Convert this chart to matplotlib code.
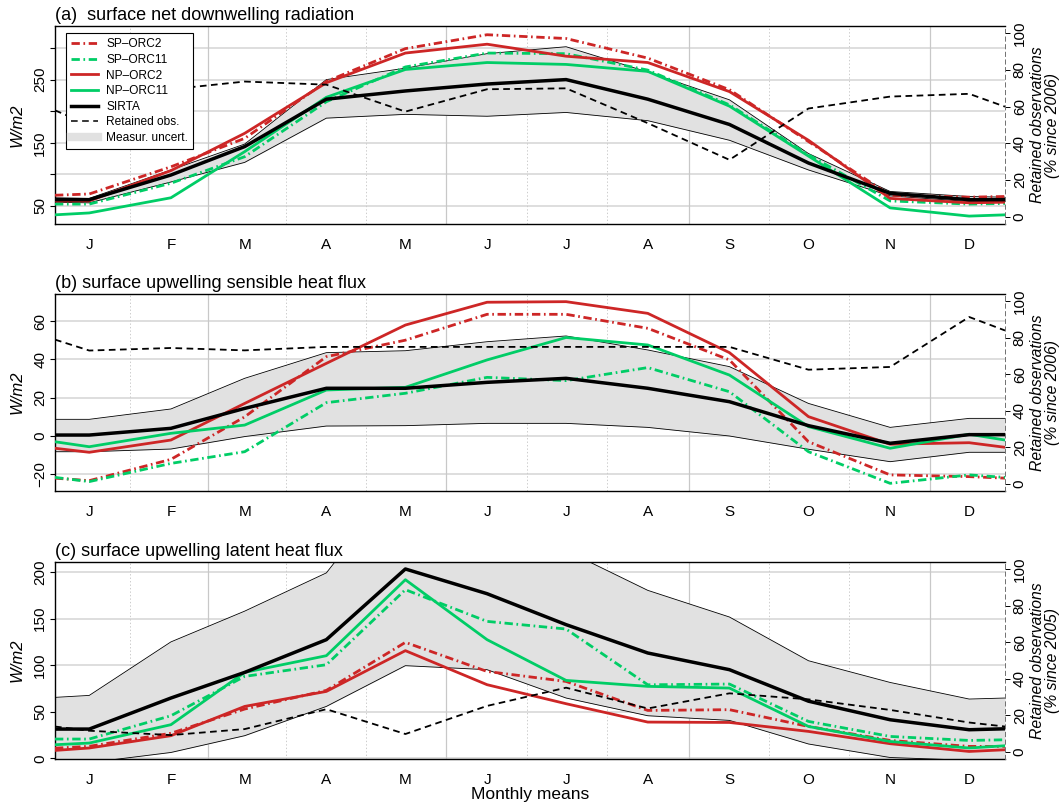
import numpy as np
import matplotlib
matplotlib.use("Agg")
import matplotlib.pyplot as plt
from matplotlib.lines import Line2D

plt.rcParams['font.family'] = ['Liberation Sans', 'DejaVu Sans']
plt.rcParams['lines.scale_dashes'] = False

# ---------------------------------------------------------------------------
# Monthly climatologies. Each series holds the value at the left axis edge,
# January ... December, and the value at the right axis edge.
# ---------------------------------------------------------------------------
months = ["J", "F", "M", "A", "M", "J", "J", "A", "S", "O", "N", "D"]
month_days = [31, 28, 31, 30, 31, 30, 31, 31, 30, 31, 30, 31]

# (a) surface net downwelling radiation, W/m2
rad_sp_orc2 = [67, 69, 112, 157, 247, 299, 321, 315, 284, 234, 152, 67, 64, 65]
rad_sp_orc11 = [53, 53, 86, 128, 215, 270, 292, 291, 265, 210, 131, 58, 53, 54]
rad_np_orc2 = [58, 58, 106, 165, 245, 292, 306, 287, 277, 231, 154, 62, 55, 56]
rad_np_orc11 = [36, 39, 63, 136, 222, 266, 277, 274, 263, 208, 129, 47, 34, 36]
rad_sirta = [60, 60, 99, 144, 219, 232, 243, 250, 219, 179, 118, 70, 60, 60]
rad_low = [56, 55, 88, 119, 189, 195, 192, 198, 185, 154, 107, 66, 57, 57]
rad_high = [63, 62, 107, 148, 250, 268, 291, 302, 262, 218, 133, 73, 65, 64]
rad_retained = [58, 50, 69.5, 73.7, 72, 57.3, 69.5, 70, 51, 31, 59, 65.5, 67, 60]

# (b) surface upwelling sensible heat flux, W/m2
sens_sp_orc2 = [-22, -23.3, -12.2, 10, 41.4, 50, 63.5, 63.5, 56.2, 39.7, -3, -20.3, -21.2, -22]
sens_sp_orc11 = [-21.6, -23.8, -14.3, -8.2, 17.4, 22.3, 30.6, 28.9, 35.7, 23.1, -8.2, -24.7, -20.3, -21.6]
sens_np_orc2 = [-6.4, -8.5, -2.1, 17, 37.9, 57.9, 69.8, 70.1, 64, 43.5, 10.1, -4.3, -3.5, -5.9]
sens_np_orc11 = [-3, -5.6, 1.4, 5.7, 24, 25.4, 39.7, 51.4, 47.5, 31.8, 4.9, -6.4, 0.9, -2.1]
sens_sirta = [0.5, 0.5, 4, 14.4, 24.9, 24.9, 28, 30.1, 24.9, 17.9, 5.4, -3.8, 0.7, 0.7]
sens_low = [-8.2, -8.2, -6.8, -0.3, 5.2, 5.4, 6.6, 6.6, 4.5, 0, -6.9, -13.4, -8.5, -8.5]
sens_high = [8.7, 8.7, 14.1, 30.1, 43.5, 44.5, 49.2, 52.2, 44.9, 36.2, 17, 4.5, 9.2, 9.2]
sens_retained = [79, 73, 74.4, 73.1, 75, 75, 75, 75, 75, 75, 62.5, 64, 91.4, 84]

# (c) surface upwelling latent heat flux, W/m2
lat_sp_orc2 = [11, 13, 27, 53, 73, 124.5, 93.3, 82.6, 51.5, 52.3, 34.3, 19.3, 12.9, 12.9]
lat_sp_orc11 = [20.8, 20.8, 45.8, 88, 100.5, 181, 147, 138.8, 79, 79.8, 39.7, 23.6, 19.3, 20]
lat_np_orc2 = [8.6, 11.2, 24.4, 55.8, 71.9, 115.6, 79.1, 58.7, 39, 38.6, 29, 15.8, 7.5, 9.3]
lat_np_orc11 = [14.7, 16.5, 36.2, 92.3, 110.2, 191.7, 127.4, 83.7, 77.3, 75.5, 34.3, 18.2, 11.2, 13.6]
lat_sirta = [31.5, 31.5, 64.8, 92.3, 127.4, 203.2, 176.7, 143.5, 113.1, 95.2, 61.4, 41.5, 30.8, 31.8]
lat_low = [-2.5, -4.5, 6.4, 24.4, 55.8, 99.5, 95.2, 64.8, 45.8, 40.8, 15.5, 1, -2, -2]
lat_high = [65.5, 67.6, 125, 158, 199, 307, 258, 223, 180.3, 151.7, 104.8, 81.5, 63.7, 64.8]
lat_retained = [13.8, 11.5, 9.1, 12.4, 23.3, 9.7, 25.1, 35.1, 23.7, 32, 28.7, 22.9, 16, 13.8]

titles = ["(a)  surface net downwelling radiation",
          "(b) surface upwelling sensible heat flux",
          "(c) surface upwelling latent heat flux"]
right_labels = ["Retained observations\n(% since 2006)",
                "Retained observations\n(% since 2006)",
                "Retained observations\n(% since 2005)"]

# ---------------------------------------------------------------------------
RED = "#cd2626"
GREEN = "#00cd66"
BAND = "#e1e1e1"
DASHDOT = (0, (6.0, 2.6, 1.2, 2.6))
DASHED = (0, (4.8, 3.2))
LW_MODEL = 2.0
LW_OBS = 2.5

# x in day-of-year, months placed at their first day
month_pos = np.concatenate([[0], np.cumsum(month_days[:-1])]).astype(float)
x_left, x_right = -13.0, 347.6
xs = np.concatenate([[x_left], month_pos, [x_right]])
bounds = (month_pos[:-1] + month_pos[1:]) / 2.0
season_bounds = {1, 4, 7, 10}

panels = [
    dict(sp2=rad_sp_orc2, sp11=rad_sp_orc11, np2=rad_np_orc2, np11=rad_np_orc11,
         obs=rad_sirta, lo=rad_low, hi=rad_high, ret=rad_retained,
         ylim=(21.5, 334.8), yticks=[50, 100, 150, 200, 250, 300],
         ylabels=["50", "", "150", "", "250", ""]),
    dict(sp2=sens_sp_orc2, sp11=sens_sp_orc11, np2=sens_np_orc2, np11=sens_np_orc11,
         obs=sens_sirta, lo=sens_low, hi=sens_high, ret=sens_retained,
         ylim=(-28.7, 74.1), yticks=[-20, 0, 20, 40, 60],
         ylabels=["\u221220", "0", "20", "40", "60"]),
    dict(sp2=lat_sp_orc2, sp11=lat_sp_orc11, np2=lat_np_orc2, np11=lat_np_orc11,
         obs=lat_sirta, lo=lat_low, hi=lat_high, ret=lat_retained,
         ylim=(-0.6, 210.7), yticks=[0, 50, 100, 150, 200],
         ylabels=["0", "50", "100", "150", "200"]),
]

W, H = 1064, 807
fig = plt.figure(figsize=(W / 100, H / 100), dpi=100)
boxes = [(26, 224), (294, 491), (562, 759)]
left_px, right_px = 55, 1005

for i, (p, (top, bot)) in enumerate(zip(panels, boxes)):
    ax = fig.add_axes([left_px / W, 1 - bot / H, (right_px - left_px) / W, (bot - top) / H])
    ax.set_xlim(x_left, x_right)
    ax.set_ylim(*p["ylim"])

    # grid
    for t in p["yticks"]:
        ax.axhline(t, color="#d8d8d8", lw=1.2, zorder=0)
    for k, b in enumerate(bounds):
        if k in season_bounds:
            ax.axvline(b, color="#c8c8c8", lw=0.9, zorder=0)
        else:
            ax.axvline(b, color="#cccccc", lw=0.7, ls=(0, (1, 1.5)), zorder=0)

    # measurement uncertainty band
    ax.fill_between(xs, p["lo"], p["hi"], color=BAND, lw=0, zorder=1)
    ax.plot(xs, p["lo"], color="black", lw=0.6, zorder=2)
    ax.plot(xs, p["hi"], color="black", lw=0.6, zorder=2)

    # model runs and observations
    ax.plot(xs, p["sp2"], color=RED, lw=LW_MODEL, ls=DASHDOT, zorder=3)
    ax.plot(xs, p["sp11"], color=GREEN, lw=LW_MODEL, ls=DASHDOT, zorder=3)
    ax.plot(xs, p["np2"], color=RED, lw=LW_MODEL, zorder=3)
    ax.plot(xs, p["np11"], color=GREEN, lw=LW_MODEL, zorder=3)
    ax.plot(xs, p["obs"], color="black", lw=LW_OBS, zorder=4)

    ax.set_yticks(p["yticks"])
    ax.set_yticklabels(p["ylabels"])
    ax.tick_params(axis="y", length=3.6, width=0.8, direction="out", labelsize=11, pad=2)
    for lab in ax.get_yticklabels():
        lab.set_rotation(90)
        lab.set_va("center")
    ax.set_xticks(month_pos)
    ax.set_xticklabels(months)
    ax.tick_params(axis="x", length=0, labelsize=11, pad=10)

    for s in ("left", "top", "bottom"):
        ax.spines[s].set_linewidth(1.0)
    ax.spines["right"].set_visible(False)

    ax.set_title(titles[i], loc="left", fontsize=13, pad=4)
    ax.set_ylabel("W/m2", fontstyle="italic", fontsize=12)
    ax.yaxis.label.set_va("center")
    ax.yaxis.set_label_coords((17.5 - left_px) / (right_px - left_px), 0.5)

    # share of retained observations on the secondary axis
    tw = ax.twinx()
    tw.set_ylim(-4, 104)
    tw.plot(xs, p["ret"], color="black", lw=1.3, ls=DASHED, zorder=5)
    tw.set_yticks([0, 20, 40, 60, 80, 100])
    tw.tick_params(axis="y", length=3.6, width=0.7, direction="out", labelsize=11, pad=2)
    for lab in tw.get_yticklabels():
        lab.set_rotation(90)
        lab.set_va("center")
    for s in ("left", "top", "bottom"):
        tw.spines[s].set_visible(False)
    tw.spines["right"].set_linestyle((0, (3, 2.5)))
    tw.spines["right"].set_color("#707070")
    tw.spines["right"].set_linewidth(0.7)
    tw.set_ylabel(right_labels[i], fontstyle="italic", fontsize=11.3, rotation=90,
                  linespacing=1.0)
    tw.yaxis.label.set_va("center")
    tw.yaxis.label.set_ha("center")
    tw.yaxis.set_label_coords((1045 - left_px) / (right_px - left_px), 0.5)

    if i == 0:
        handles = [
            Line2D([], [], color=RED, lw=LW_MODEL, ls=DASHDOT),
            Line2D([], [], color=GREEN, lw=LW_MODEL, ls=DASHDOT),
            Line2D([], [], color=RED, lw=LW_MODEL),
            Line2D([], [], color=GREEN, lw=LW_MODEL),
            Line2D([], [], color="black", lw=LW_OBS),
            Line2D([], [], color="black", lw=1.1, ls=DASHED),
            Line2D([], [], color=BAND, lw=6),
        ]
        labels = ["SP\u2013ORC2", "SP\u2013ORC11", "NP\u2013ORC2", "NP\u2013ORC11",
                  "SIRTA", "Retained obs.", "Measur. uncert."]
        leg = tw.legend(handles, labels, loc="upper left",
                        bbox_to_anchor=((66 - left_px) / (right_px - left_px), 1 - (33 - top) / (bot - top)),
                        borderaxespad=0, fontsize=8.6, frameon=True, fancybox=False,
                        edgecolor="black", framealpha=1, handlelength=2.2,
                        handletextpad=0.7, labelspacing=0.3, borderpad=0.45)
        leg.get_frame().set_linewidth(0.8)
        leg.set_zorder(10)

    if i == 2:
        ax.set_xlabel("Monthly means", fontsize=12.5)
        ax.xaxis.label.set_va("center")
        ax.xaxis.set_label_coords(0.5, (bot - 794) / (bot - top))

fig.savefig("out.png", dpi=100)
